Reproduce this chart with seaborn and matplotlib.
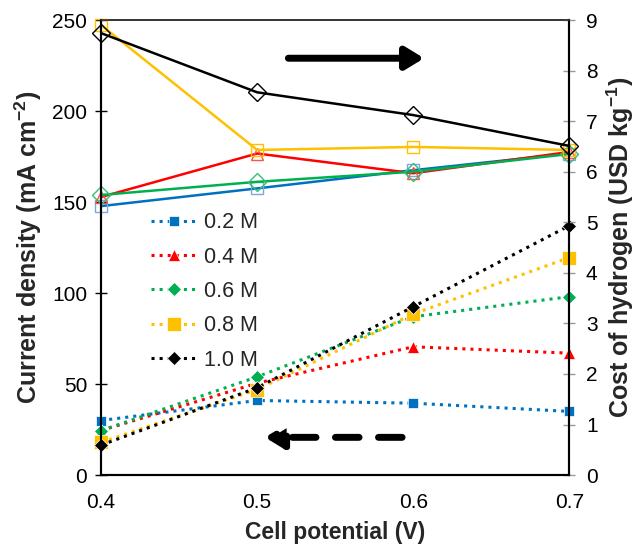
import numpy as np
import matplotlib
matplotlib.use("Agg")
import matplotlib.pyplot as plt
import seaborn as sns

# cell potential (V)
potential = [0.4, 0.5, 0.6, 0.7]
labels = ["0.2 M", "0.4 M", "0.6 M", "0.8 M", "1.0 M"]

# current density (mA cm-2), dotted lines, filled markers
current_02 = [30, 41, 39.5, 35]
current_04 = [24.5, 50.5, 70.5, 67]
current_06 = [24.5, 54, 87, 98]
current_08 = [18, 47, 88.5, 119.5]
current_10 = [16.5, 48, 92.5, 137]

# cost of hydrogen (USD kg-1), solid lines, open markers
cost_02 = [5.32, 5.67, 6.03, 6.36]
cost_04 = [5.50, 6.36, 5.97, 6.39]
cost_06 = [5.54, 5.80, 6.00, 6.35]
cost_08 = [8.90, 6.43, 6.49, 6.43]
cost_10 = [8.74, 7.57, 7.12, 6.51]

currents = [current_02, current_04, current_06, current_08, current_10]
costs = [cost_02, cost_04, cost_06, cost_08, cost_10]

colors = ["#0070C0", "#FF0000", "#00B050", "#FFC000", "#000000"]
edge_light = ["#7FA6DC", "#FF5050", "#33C070", "#FFC000", "#000000"]
markers = ["s", "^", "D", "s", "D"]
msizes = [7.5, 8.5, 7, 9.5, 7]

sns.set_theme(style="white")
plt.rcParams["font.family"] = ["Liberation Sans", "DejaVu Sans"]
plt.rcParams["mathtext.fontset"] = "custom"
plt.rcParams["mathtext.rm"] = "Liberation Sans"
plt.rcParams["mathtext.bf"] = "Liberation Sans:bold"

fig = plt.figure(figsize=(6.36, 5.48), dpi=100)
ax = fig.add_axes([0.159, 0.133, 0.736, 0.8305])
ax2 = ax.twinx()

for lab, y, c, m, ms in zip(labels, currents, colors, markers, msizes):
    sns.lineplot(x=potential, y=y, ax=ax, color=c, marker=m, markersize=ms,
                 linestyle=":", linewidth=2.2, markeredgecolor="white",
                 markeredgewidth=0.5, label=lab, clip_on=False, zorder=3)

for y, c, ec, m in zip(costs, colors, edge_light, markers):
    sns.lineplot(x=potential, y=y, ax=ax2, color=c, marker=m, markersize=9,
                 linestyle="-", linewidth=1.8, markerfacecolor="none",
                 markeredgecolor=ec, markeredgewidth=1.0, legend=False,
                 clip_on=False)

ax.set_xlim(0.4, 0.7)
ax.set_ylim(0, 250)
ax2.set_ylim(0, 9)
ax.set_xticks([0.4, 0.5, 0.6, 0.7])
ax.set_yticks(range(0, 251, 50))
ax2.set_yticks(range(0, 10))

ax.set_xlabel("Cell potential (V)", fontsize=16.5, fontweight="bold", labelpad=6)
ax.set_ylabel(r"Current density (mA cm$\mathbf{^{-2}}$)", fontsize=18,
              fontweight="bold", labelpad=6)
ax2.set_ylabel(r"Cost of hydrogen (USD kg$\mathbf{^{-1}}$)", fontsize=18,
               fontweight="bold", labelpad=5)

ax.tick_params(axis="x", direction="inout", length=8, width=1, labelsize=15,
               colors="#888888", labelcolor="black", pad=9)
ax.tick_params(axis="y", direction="inout", length=8, width=1, labelsize=15,
               colors="black", pad=6)
ax2.tick_params(axis="y", direction="inout", length=8, width=1, labelsize=15,
                colors="#999999", labelcolor="black", pad=8)

for a in (ax, ax2):
    for s in a.spines.values():
        s.set_color("black")
        s.set_linewidth(1.5)
    a.spines["top"].set_color("#333333")
    a.spines["top"].set_linewidth(1.2)

leg = ax.legend(loc="upper left", bbox_to_anchor=(0.065, 0.62), frameon=False,
                fontsize=15.5, handlelength=2.1, handletextpad=0.35,
                labelspacing=0.62)

# direction arrows
ax.annotate("", xy=(0.69, 0.916), xytext=(0.40, 0.916), xycoords="axes fraction",
            arrowprops=dict(arrowstyle="-|>,head_length=0.9,head_width=0.55",
                            lw=5, color="black", shrinkA=0, shrinkB=0))
ax.annotate("", xy=(0.35, 0.083), xytext=(0.643, 0.083), xycoords="axes fraction",
            arrowprops=dict(arrowstyle="-|>,head_length=0.9,head_width=0.55",
                            lw=5, color="black", linestyle=(0, (3.4, 2.8)),
                            shrinkA=0, shrinkB=0))

fig.savefig("out.png", dpi=100)
